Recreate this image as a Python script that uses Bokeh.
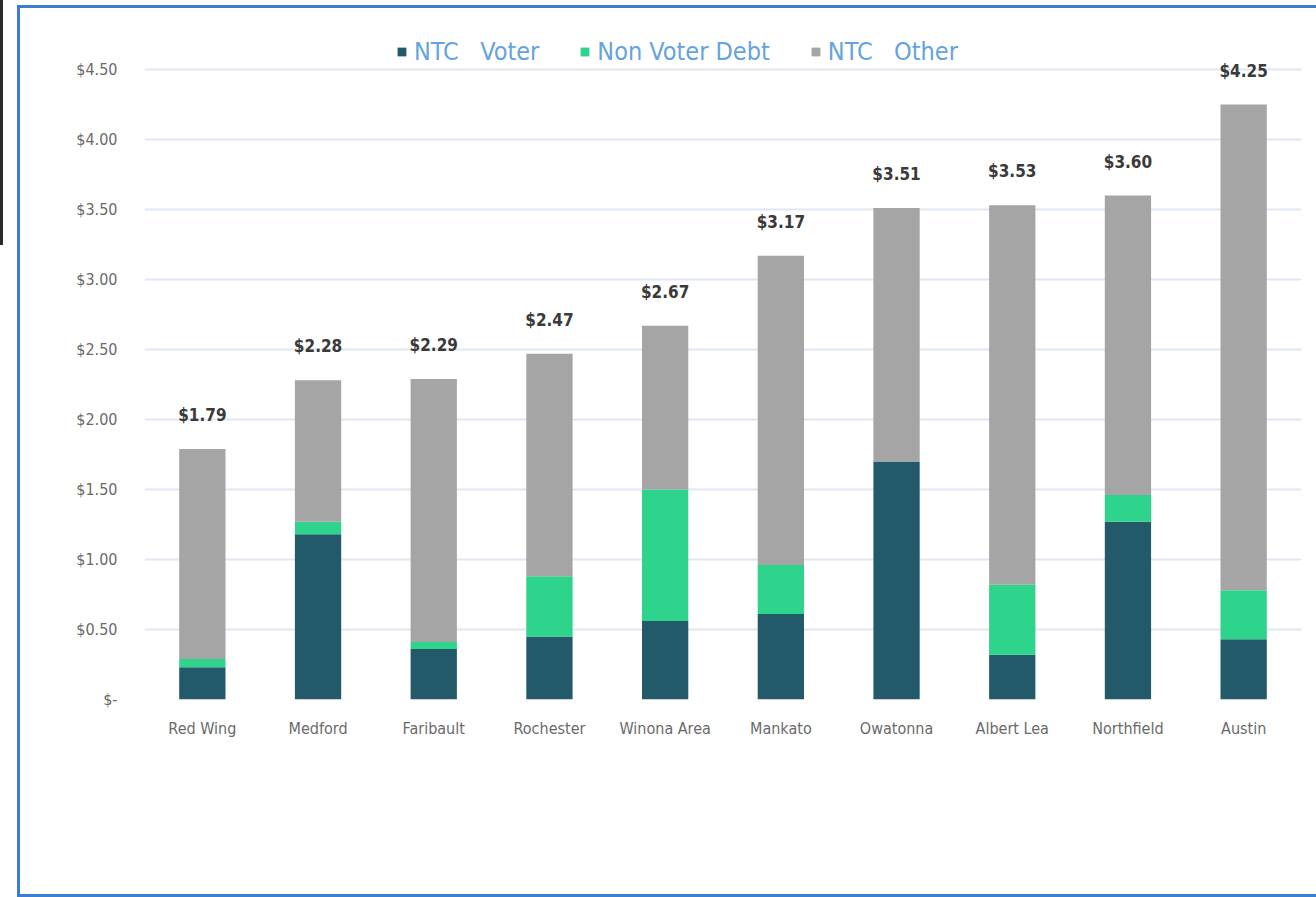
from bokeh.plotting import figure
from bokeh.models import ColumnDataSource, FixedTicker, Legend, LegendItem, Div
from bokeh.layouts import row
from bokeh.core.properties import value
from bokeh.embed import file_html
from bokeh.resources import INLINE

cities = ["Red Wing", "Medford", "Faribault", "Rochester", "Winona Area",
          "Mankato", "Owatonna", "Albert Lea", "Northfield", "Austin"]
ntc_voter = [0.23, 1.18, 0.36, 0.45, 0.56, 0.61, 1.70, 0.32, 1.27, 0.43]
non_voter_debt = [0.06, 0.09, 0.05, 0.43, 0.94, 0.35, 0.00, 0.50, 0.19, 0.35]
totals = [1.79, 2.28, 2.29, 2.47, 2.67, 3.17, 3.51, 3.53, 3.60, 4.25]
series_names = ["NTC   Voter", "Non Voter Debt", "NTC   Other"]
y_ticks = [0.0, 0.5, 1.0, 1.5, 2.0, 2.5, 3.0, 3.5, 4.0, 4.5]
y_tick_labels = ["$-", "$0.50", "$1.00", "$1.50", "$2.00", "$2.50",
                 "$3.00", "$3.50", "$4.00", "$4.50"]

colors = ["#225a69", "#2ed38c", "#a5a5a5"]
FONT = "DejaVu Sans Condensed, Roboto, sans-serif"

ntc_other = [round(t - v - d, 2) for t, v, d in zip(totals, ntc_voter, non_voter_debt)]
b1 = ntc_voter
b2 = [v + d for v, d in zip(ntc_voter, non_voter_debt)]

src = ColumnDataSource(dict(
    city=cities, v=ntc_voter, d=non_voter_debt, o=ntc_other,
    b0=[0.0] * len(cities), b1=b1, b2=b2, total=totals,
    label=["$%.2f" % t for t in totals],
))

p = figure(x_range=cities, y_range=(0, 4.75), width=1300, height=892,
           output_backend="svg", toolbar_location=None,
           min_border_left=124, min_border_right=19,
           min_border_top=26, min_border_bottom=201,
           background_fill_color="white", border_fill_color="white",
           margin=(5, 0, 0, 14))
p.styles = {"border-left": "3px solid #3b7dd0",
            "border-top": "3px solid #3b7dd0",
            "border-bottom": "3px solid #3b7dd0"}
p.outline_line_color = None

r1 = p.vbar(x="city", bottom="b0", top="b1", width=0.4, source=src,
            fill_color=colors[0], line_color=None)
r2 = p.vbar(x="city", bottom="b1", top="b2", width=0.4, source=src,
            fill_color=colors[1], line_color=None)
r3 = p.vbar(x="city", bottom="b2", top="total", width=0.4, source=src,
            fill_color=colors[2], line_color=None)

p.text(x="city", y="total", text="label", source=src,
       text_align="center", text_baseline="bottom", y_offset=-24,
       text_font=value(FONT), text_font_size="17px", text_color="#3a3a3a",
       text_font_style="bold")

p.xgrid.grid_line_color = None
p.ygrid.grid_line_color = "#dfe8f2"
p.ygrid.grid_line_width = 2
p.yaxis.ticker = FixedTicker(ticks=y_ticks)
p.yaxis.major_label_overrides = {t: l for t, l in zip(y_ticks, y_tick_labels)}

for ax in (p.xaxis[0], p.yaxis[0]):
    ax.axis_line_color = None
    ax.major_tick_line_color = None
    ax.minor_tick_line_color = None
    ax.major_label_text_font = FONT
    ax.major_label_text_font_size = "16px"
    ax.major_label_text_color = "#6a6a6a"
p.yaxis.major_label_standoff = 21
p.xaxis.major_label_standoff = 13

legend = Legend(items=[LegendItem(label=series_names[0], renderers=[r1]),
                       LegendItem(label=series_names[1], renderers=[r2]),
                       LegendItem(label=series_names[2], renderers=[r3])],
                orientation="horizontal", location=(252, 633),
                label_text_font=FONT, label_text_font_size="25px",
                label_text_color="#64a2e0", glyph_width=11, glyph_height=11,
                label_standoff=7, spacing=40, padding=0, margin=0,
                background_fill_alpha=0, border_line_color=None,
                label_height=24)
p.add_layout(legend, "center")

strip = Div(width=3, height=245, margin=(0, 0, 0, 0),
            styles={"background-color": "#2a2a2a"})

layout = row(strip, p, margin=(0, 0, 0, 0))
open("out.html", "w").write(file_html(layout, INLINE))
